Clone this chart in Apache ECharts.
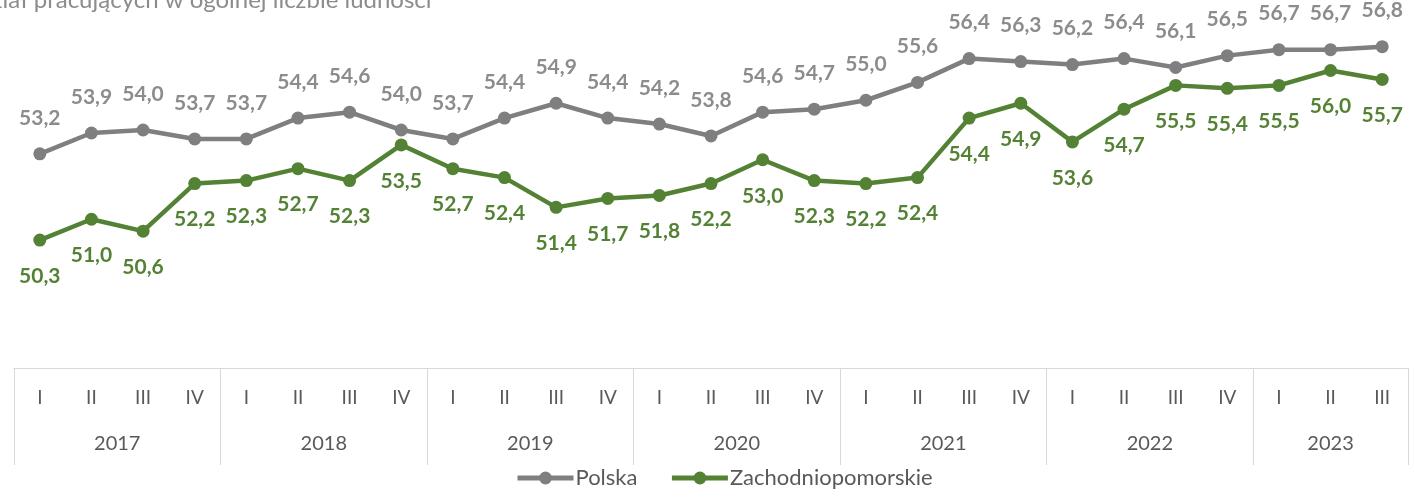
<!DOCTYPE html>
<html>
<head>
<meta charset="utf-8">
<script src="https://cdn.jsdelivr.net/npm/echarts@6/dist/echarts.min.js"></script>
<style>
  html, body { margin: 0; padding: 0; background: #fff; }
  #chart { width: 1414px; height: 498px; }
</style>
</head>
<body>
<div id="chart"></div>
<script>
// dane
const quarters = ["I", "II", "III", "IV", "I", "II", "III", "IV", "I", "II", "III", "IV",
  "I", "II", "III", "IV", "I", "II", "III", "IV", "I", "II", "III", "IV", "I", "II", "III"];
const years = ["2017", "2018", "2019", "2020", "2021", "2022", "2023"];
const quartersPerYear = [4, 4, 4, 4, 4, 4, 3];
const polska = [53.2, 53.9, 54.0, 53.7, 53.7, 54.4, 54.6, 54.0, 53.7, 54.4, 54.9, 54.4, 54.2,
  53.8, 54.6, 54.7, 55.0, 55.6, 56.4, 56.3, 56.2, 56.4, 56.1, 56.5, 56.7, 56.7, 56.8];
const zachodniopomorskie = [50.3, 51.0, 50.6, 52.2, 52.3, 52.7, 52.3, 53.5, 52.7, 52.4, 51.4,
  51.7, 51.8, 52.2, 53.0, 52.3, 52.2, 52.4, 54.4, 54.9, 53.6, 54.7, 55.5, 55.4, 55.5, 56.0, 55.7];

// granice lat i srodki grup (w jednostkach kwartalow)
const bounds = [0];
const centers = [];
quartersPerYear.forEach((n) => {
  const start = bounds[bounds.length - 1];
  centers.push(start + n / 2);
  bounds.push(start + n);
});

const font = "Lato, 'Noto Sans', sans-serif";
const fmt = (p) => p.value.toFixed(1).replace(".", ",");

const chart = echarts.init(document.getElementById("chart"));
chart.setOption({
  animation: false,
  title: {
    text: "Udział pracujących w ogólnej liczbie ludności",
    left: -44,
    top: -17,
    textStyle: { color: "#8c8c8c", fontSize: 24, fontWeight: "normal", fontFamily: font },
  },
  legend: {
    bottom: 4,
    left: 510,
    itemWidth: 56,
    itemHeight: 16,
    itemGap: 32,
    lineStyle: { width: 5 },
    textStyle: { color: "#595959", fontSize: 22, fontFamily: font, padding: [0, 0, 0, -3] },
    data: ["Polska", "Zachodniopomorskie"],
  },
  grid: { left: 14, right: 6, top: 11, bottom: 130 },
  xAxis: [
    {
      type: "category",
      data: quarters,
      boundaryGap: true,
      axisLine: { lineStyle: { color: "#d9d9d9", width: 1 } },
      axisTick: { show: false },
      axisLabel: { color: "#595959", fontSize: 19, margin: 20, fontFamily: font, interval: 0 },
    },
    {
      type: "value",
      min: 0,
      max: bounds[bounds.length - 1],
      position: "bottom",
      splitLine: { show: false },
      axisLine: { show: false },
      axisTick: {
        show: true,
        customValues: bounds,
        length: 97,
        lineStyle: { color: "#d9d9d9", width: 1 },
      },
      axisLabel: {
        customValues: centers,
        formatter: (v) => years[centers.indexOf(v)],
        color: "#595959",
        fontSize: 20,
        margin: 66,
        fontFamily: font,
      },
    },
  ],
  yAxis: { type: "value", min: 46, max: 58, show: false },
  series: [
    {
      name: "Polska",
      type: "line",
      data: polska,
      color: "#7f7f7f",
      symbol: "circle",
      symbolSize: 13,
      lineStyle: { width: 4.5 },
      label: {
        show: true,
        position: "top",
        distance: 19,
        formatter: fmt,
        color: "#8c8c8c",
        fontSize: 21,
        fontWeight: "bold",
        fontFamily: font,
      },
    },
    {
      name: "Zachodniopomorskie",
      type: "line",
      data: zachodniopomorskie,
      color: "#548235",
      symbol: "circle",
      symbolSize: 13,
      lineStyle: { width: 4.5 },
      label: {
        show: true,
        position: "bottom",
        distance: 19,
        formatter: fmt,
        color: "#548235",
        fontSize: 21,
        fontWeight: "bold",
        fontFamily: font,
      },
    },
  ],
});
</script>
</body>
</html>
